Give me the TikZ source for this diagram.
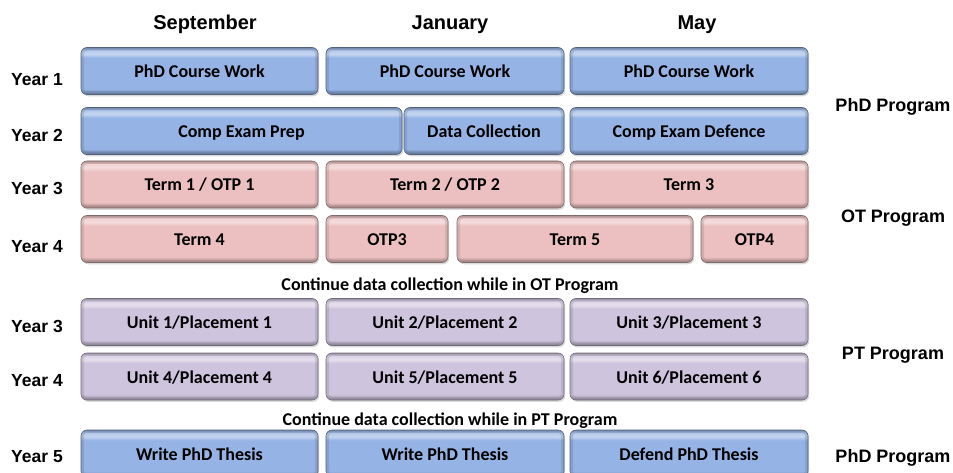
\documentclass[tikz,border=0pt]{standalone}
\usepackage{fontspec}
\setmainfont{Liberation Sans}
\newfontfamily\boxfont{Carlito}
\usetikzlibrary{shadows}

\definecolor{phdblue}{RGB}{149,179,228}
\definecolor{otpink}{RGB}{236,192,192}
\definecolor{ptlilac}{RGB}{206,196,222}
\colorlet{boxbase}{phdblue}

% bevelled fill, drawn in whatever boxbase is at the time
\pgfdeclareverticalshading[boxbase]{bevel}{100bp}{color(0bp)=(boxbase!65!black); color(25bp)=(boxbase!65!black); color(27.5bp)=(boxbase!82!black); color(31bp)=(boxbase); color(64bp)=(boxbase); color(68bp)=(boxbase!55!white); color(72bp)=(boxbase!70!white); color(75bp)=(boxbase!80!black); color(100bp)=(boxbase!80!black)}

\tikzset{
	blk/.style={/utils/exec={\colorlet{boxbase}{#1}}, shade, shading=bevel, draw=#1!55!black, line width=0.6pt, rounded corners=6pt,
		minimum height=47, inner sep=0pt, text height=13pt, text depth=0pt,
		font=\boxfont\bfseries\fontsize{18}{20}\selectfont,
		drop shadow={shadow xshift=1.2pt, shadow yshift=-1.8pt, opacity=.3},
		path picture={\draw[#1!55!black, opacity=.22, line width=6pt]
			(path picture bounding box.south west) rectangle (path picture bounding box.north east);}},
	month/.style={anchor=base, font=\bfseries\fontsize{20}{22}\selectfont},
	yearlbl/.style={anchor=base, font=\bfseries\fontsize{17.5}{20}\selectfont},
	prog/.style={anchor=base, font=\bfseries\fontsize{18}{20}\selectfont},
	note/.style={anchor=base, font=\boxfont\bfseries\fontsize{18}{20}\selectfont}
}

\begin{document}
\begin{tikzpicture}[x=1pt, y=-1pt]
	\useasboundingbox (0,0) rectangle (953,473);
	% months
	\node[month] (sep) at (205,29.5) {September};
	\node[month] (jan) at (450,29.5) {January};
	\node[month] (may) at (697,29.5) {May};
	% years
	\node[yearlbl] (yr1) at (37,86) {Year 1};
	\node[yearlbl] (yr2) at (37,142) {Year 2};
	\node[yearlbl] (yr3) at (37,195) {Year 3};
	\node[yearlbl] (yr4) at (37,252) {Year 4};
	\node[yearlbl] (pyr3) at (37,332) {Year 3};
	\node[yearlbl] (pyr4) at (37,386) {Year 4};
	\node[yearlbl] (yr5) at (37,462) {Year 5};
	% programs
	\node[prog] (phd1) at (893,112) {PhD Program};
	\node[prog] (ot) at (893,222.5) {OT Program};
	\node[prog] (pt) at (893,359) {PT Program};
	\node[prog] (phd2) at (893,462) {PhD Program};
	\begin{scope}[every node/.append style={blk=phdblue}] % PhD years 1-2
		\node[minimum width=237] (cw1) at (199.5,71) {PhD Course Work};
		\node[minimum width=238] (cw2) at (445,71) {PhD Course Work};
		\node[minimum width=238] (cw3) at (689,71) {PhD Course Work};
		\node[minimum width=321] (prep) at (241.5,131) {Comp Exam Prep};
		\node[minimum width=160] (data) at (484,131) {Data Collection};
		\node[minimum width=238] (dfn) at (689,131) {Comp Exam Defence};
	\end{scope}
	\begin{scope}[every node/.append style={blk=otpink}] % OT terms
		\node[minimum width=237] (t1) at (199.5,184.5) {Term 1 / OTP 1};
		\node[minimum width=238] (t2) at (445,184.5) {Term 2 / OTP 2};
		\node[minimum width=238] (t3) at (689,184.5) {Term 3};
		\node[minimum width=237] (t4) at (199.5,239) {Term 4};
		\node[minimum width=122] (otp3) at (387,239) {OTP3};
		\node[minimum width=236] (t5) at (575,239) {Term 5};
		\node[minimum width=107] (otp4) at (754.5,239) {OTP4};
	\end{scope}
	\node[note] (ncont1) at (450,290.5) {Continue data collection while in OT Program};
	\begin{scope}[every node/.append style={blk=ptlilac}] % PT units
		\node[minimum width=237] (u1) at (199.5,322) {Unit 1/Placement 1};
		\node[minimum width=238] (u2) at (445,322) {Unit 2/Placement 2};
		\node[minimum width=238] (u3) at (689,322) {Unit 3/Placement 3};
		\node[minimum width=237] (u4) at (199.5,376.5) {Unit 4/Placement 4};
		\node[minimum width=238] (u5) at (445,376.5) {Unit 5/Placement 5};
		\node[minimum width=238] (u6) at (689,376.5) {Unit 6/Placement 6};
	\end{scope}
	\node[note] (ncont2) at (450,425) {Continue data collection while in PT Program};
	\begin{scope}[every node/.append style={blk=phdblue}] % thesis
		\node[minimum width=237] (th1) at (199.5,453.5) {Write PhD Thesis};
		\node[minimum width=238] (th2) at (445,453.5) {Write PhD Thesis};
		\node[minimum width=238] (th3) at (689,453.5) {Defend PhD Thesis};
	\end{scope}
\end{tikzpicture}
\end{document}
